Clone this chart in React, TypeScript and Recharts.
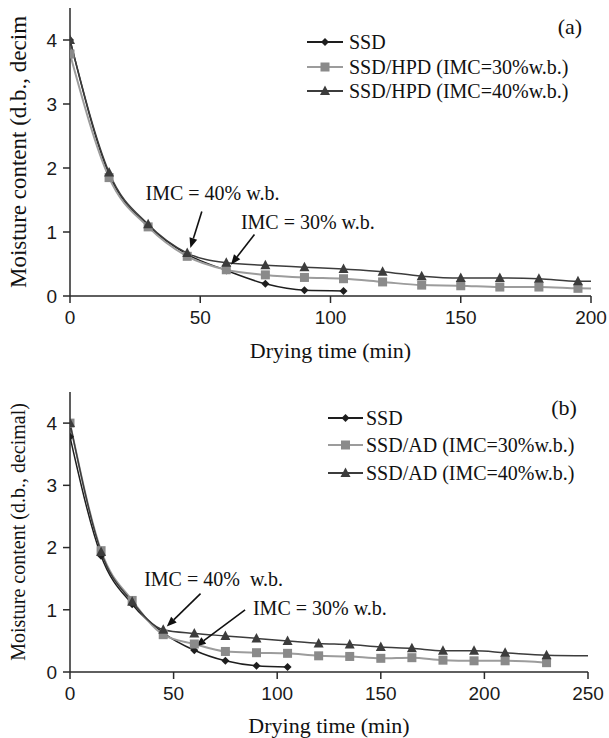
import React from 'react'
import { LineChart, Line, XAxis, YAxis, Legend, ReferenceLine, ReferenceDot } from 'recharts'

// drying times (min)
const timeSsd = [0, 15, 30, 45, 60, 75, 90, 105]
const timeA = [0, 15, 30, 45, 60, 75, 90, 105, 120, 135, 150, 165, 180, 195, 210]
const timeB = [0, 15, 30, 45, 60, 75, 90, 105, 120, 135, 150, 165, 180, 195, 210, 230]
const timeB40 = [0, 15, 30, 45, 60, 75, 90, 105, 120, 135, 150, 165, 180, 195, 210, 230, 255]

// panel (a) moisture content (d.b.)
const ssdA = [4.0, 1.9, 1.1, 0.65, 0.4, 0.19, 0.09, 0.08]
const hpd30 = [3.78, 1.85, 1.08, 0.62, 0.41, 0.33, 0.29, 0.27, 0.22, 0.17, 0.16, 0.14, 0.14, 0.12, 0.11]
const hpd40 = [4.0, 1.93, 1.12, 0.67, 0.52, 0.48, 0.45, 0.42, 0.38, 0.31, 0.28, 0.28, 0.27, 0.23, 0.23]

// panel (b)
const ssdB = [3.78, 1.87, 1.09, 0.63, 0.35, 0.18, 0.1, 0.08]
const ad30 = [4.0, 1.95, 1.15, 0.6, 0.45, 0.33, 0.31, 0.3, 0.26, 0.25, 0.22, 0.23, 0.19, 0.18, 0.18, 0.15]
const ad40 = [4.0, 1.93, 1.13, 0.68, 0.62, 0.58, 0.54, 0.5, 0.46, 0.44, 0.4, 0.38, 0.34, 0.34, 0.31, 0.27, 0.26]

const xTicksA = [0, 50, 100, 150, 200]
const xTicksB = [0, 50, 100, 150, 200, 250]
const yTicks = [0, 1, 2, 3, 4]

const legendA = ['SSD', 'SSD/HPD (IMC=30%w.b.)', 'SSD/HPD (IMC=40%w.b.)']
const legendB = ['SSD', 'SSD/AD (IMC=30%w.b.)', 'SSD/AD (IMC=40%w.b.)']

const toRows = (t: number[], v: number[]) => t.map((x, i) => ({ t: x, v: v[i] }))

const SERIF = '"Liberation Serif", "Times New Roman", serif'
const SANS = '"Liberation Sans", Arial, sans-serif'
const FRAME = '#2a2a2a'

const C_SSD = '#1e1e1e'
const C_30 = '#9c9c9c'
const C_30M = '#8a8a8a'
const C_40 = '#3c3c3c'

function Diamond({ cx, cy }: { cx: number; cy: number }) {
  const r = 4
  return <polygon points={`${cx},${cy - r} ${cx + r},${cy} ${cx},${cy + r} ${cx - r},${cy}`} fill={C_SSD} />
}
function Square({ cx, cy }: { cx: number; cy: number }) {
  return <rect x={cx - 4.5} y={cy - 4.5} width={9} height={9} fill={C_30M} />
}
function Triangle({ cx, cy }: { cx: number; cy: number }) {
  return <polygon points={`${cx},${cy - 5.5} ${cx + 5},${cy + 4} ${cx - 5},${cy + 4}`} fill={C_40} />
}

const dotFn = (Shape: any) => (p: any) => {
  if (p.cx == null || p.cy == null) return <g key={p.index} />
  return <Shape key={p.index} cx={p.cx} cy={p.cy} />
}

function Arrow(p: any) {
  const { x1, y1, x2, y2 } = p
  const ang = Math.atan2(y2 - y1, x2 - x1)
  const L = 10
  const W = 4
  const bx = x2 - L * Math.cos(ang)
  const by = y2 - L * Math.sin(ang)
  const nx = -Math.sin(ang) * W
  const ny = Math.cos(ang) * W
  return (
    <g>
      <line x1={x1} y1={y1} x2={bx} y2={by} stroke="#111" strokeWidth={1.6} />
      <polygon points={`${x2},${y2} ${bx + nx},${by + ny} ${bx - nx},${by - ny}`} fill="#111" />
    </g>
  )
}

const noteShape = (text: string) => (p: any) => (
  <text x={p.cx} y={p.cy} fontFamily={SERIF} fontSize={20} fill="#111" style={{ whiteSpace: 'pre' }}>
    {text}
  </text>
)

function makeLegend(labels: string[], x0: number, x1: number, tx: number, rows: number[], tag: string, tagX: number, tagY: number) {
  const shapes = [Diamond, Square, Triangle]
  const colors = [C_SSD, C_30, C_40]
  return () => (
    <svg width={609} height={130} style={{ position: 'absolute', left: 0, top: 0, overflow: 'visible' }}>
      {labels.map((lab, i) => {
        const S = shapes[i]
        return (
          <g key={lab}>
            <line x1={x0} x2={x1} y1={rows[i]} y2={rows[i]} stroke={colors[i]} strokeWidth={2} />
            <S cx={(x0 + x1) / 2} cy={rows[i]} />
            <text x={tx} y={rows[i]} dy="0.35em" fontFamily={SERIF} fontSize={20} fill="#111">
              {lab}
            </text>
          </g>
        )
      })}
      <text x={tagX} y={tagY} textAnchor="middle" dy="0.35em" fontFamily={SERIF} fontSize={22} fill="#111">
        {tag}
      </text>
    </svg>
  )
}

const tickStyle = { fontFamily: SANS, fontSize: 19, fill: '#1a1a1a' }

const xLabel = (cy: number) => (props: any) => {
  const vb = props.viewBox
  return (
    <text x={vb.x + vb.width / 2} y={cy} textAnchor="middle" dy="0.35em" fontFamily={SERIF} fontSize={22} fill="#111">
      Drying time (min)
    </text>
  )
}

const yLabel = (text: string, cx: number, size: number) => (props: any) => {
  const vb = props.viewBox
  const cy = vb.y + vb.height / 2
  return (
    <text
      x={cx}
      y={cy}
      textAnchor="middle"
      dy="0.35em"
      transform={`rotate(-90, ${cx}, ${cy})`}
      fontFamily={SERIF}
      fontSize={size}
      fill="#111"
    >
      {text}
    </text>
  )
}

export default function App() {
  return (
    <div style={{ position: 'absolute', left: 0, top: 0, width: 609, height: 738, background: '#fff' }}>
      <LineChart width={609} height={370} margin={{ top: 8, right: 18, left: 0, bottom: 0 }}>
        <XAxis
          dataKey="t"
          type="number"
          domain={[0, 200]}
          ticks={xTicksA}
          allowDataOverflow
          height={74}
          tick={tickStyle}
          tickSize={7}
          tickMargin={8}
          stroke={FRAME}
          strokeWidth={1.5}
          label={{ content: xLabel(350) }}
        />
        <XAxis xAxisId="top" orientation="top" type="number" domain={[0, 200]} height={0} tick={false} tickLine={false} stroke={FRAME} strokeWidth={1.5} />
        <YAxis
          type="number"
          domain={[0, 4.5]}
          ticks={yTicks}
          allowDataOverflow
          width={70}
          tick={tickStyle}
          tickSize={7}
          tickMargin={6}
          stroke={FRAME}
          strokeWidth={1.5}
          label={{ content: yLabel('Moisture content (d.b., decim', 18, 23) }}
        />
        <YAxis yAxisId="right" orientation="right" domain={[0, 4.5]} width={0} tick={false} tickLine={false} stroke={FRAME} strokeWidth={1.5} />
        <Legend
          layout="vertical"
          align="center"
          verticalAlign="middle"
          wrapperStyle={{ position: 'absolute', left: 0, top: 0, width: 609, height: 120 }}
          content={makeLegend(legendA, 307, 343, 349, [42, 67, 91], '(a)', 570, 26)}
        />
        <Line data={toRows(timeSsd, ssdA)} dataKey="v" type="monotone" stroke={C_SSD} strokeWidth={1.5} dot={dotFn(Diamond)} isAnimationActive={false} name={legendA[0]} />
        <Line data={toRows(timeA, hpd30)} dataKey="v" type="monotone" stroke={C_30} strokeWidth={2} dot={dotFn(Square)} isAnimationActive={false} name={legendA[1]} />
        <Line data={toRows(timeA, hpd40)} dataKey="v" type="monotone" stroke={C_40} strokeWidth={1.5} dot={dotFn(Triangle)} isAnimationActive={false} name={legendA[2]} />
        <ReferenceLine segment={[{ x: 50.6, y: 1.32 }, { x: 46.2, y: 0.75 }]} shape={Arrow} />
        <ReferenceLine segment={[{ x: 70.8, y: 0.96 }, { x: 61.8, y: 0.49 }]} shape={Arrow} />
        <ReferenceDot x={29} y={1.5} r={0} shape={noteShape('IMC = 40% w.b.')} />
        <ReferenceDot x={65.6} y={1.05} r={0} shape={noteShape('IMC = 30% w.b.')} />
      </LineChart>

      <LineChart width={609} height={368} margin={{ top: 22, right: 21, left: 0, bottom: 0 }}>
        <XAxis
          dataKey="t"
          type="number"
          domain={[0, 250]}
          ticks={xTicksB}
          allowDataOverflow
          height={66}
          tick={tickStyle}
          tickSize={7}
          tickMargin={8}
          stroke={FRAME}
          strokeWidth={1.5}
          label={{ content: xLabel(355) }}
        />
        <XAxis xAxisId="top" orientation="top" type="number" domain={[0, 250]} height={0} tick={false} tickLine={false} stroke={FRAME} strokeWidth={1.5} />
        <YAxis
          type="number"
          domain={[0, 4.5]}
          ticks={yTicks}
          allowDataOverflow
          width={70}
          tick={tickStyle}
          tickSize={7}
          tickMargin={6}
          stroke={FRAME}
          strokeWidth={1.5}
          label={{ content: yLabel('Moisture content (d.b., decimal)', 18, 20) }}
        />
        <YAxis yAxisId="right" orientation="right" domain={[0, 4.5]} width={0} tick={false} tickLine={false} stroke={FRAME} strokeWidth={1.5} />
        <Legend
          layout="vertical"
          align="center"
          verticalAlign="middle"
          wrapperStyle={{ position: 'absolute', left: 0, top: 0, width: 609, height: 120 }}
          content={makeLegend(legendB, 328, 363, 366, [48, 75, 103], '(b)', 564, 37)}
        />
        <Line data={toRows(timeSsd, ssdB)} dataKey="v" type="monotone" stroke={C_SSD} strokeWidth={1.5} dot={dotFn(Diamond)} isAnimationActive={false} name={legendB[0]} />
        <Line data={toRows(timeB, ad30)} dataKey="v" type="monotone" stroke={C_30} strokeWidth={2} dot={dotFn(Square)} isAnimationActive={false} name={legendB[1]} />
        <Line data={toRows(timeB40, ad40)} dataKey="v" type="monotone" stroke={C_40} strokeWidth={1.5} dot={dotFn(Triangle)} isAnimationActive={false} name={legendB[2]} />
        <ReferenceLine segment={[{ x: 63, y: 1.26 }, { x: 46.7, y: 0.73 }]} shape={Arrow} />
        <ReferenceLine segment={[{ x: 84.5, y: 1.0 }, { x: 60.7, y: 0.41 }]} shape={Arrow} />
        <ReferenceDot x={35.8} y={1.39} r={0} shape={noteShape('IMC = 40%  w.b.')} />
        <ReferenceDot x={88.3} y={0.91} r={0} shape={noteShape('IMC = 30% w.b.')} />
      </LineChart>
    </div>
  )
}
